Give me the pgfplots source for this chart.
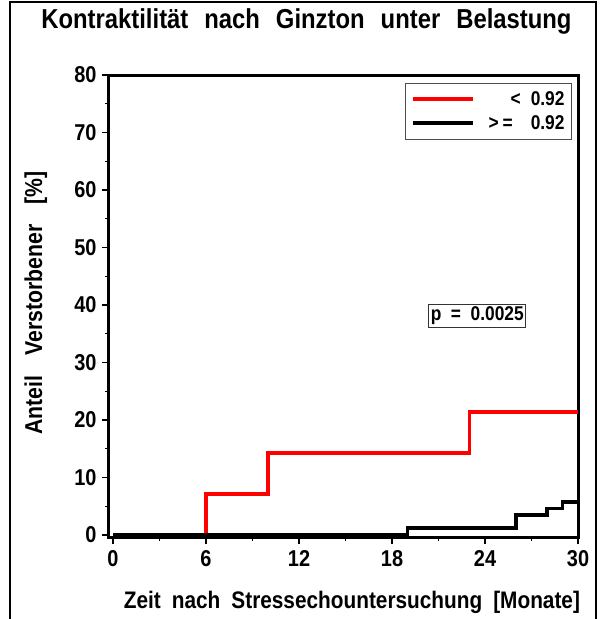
\documentclass[border=0pt]{standalone}
\usepackage{fontspec}
\setmainfont[FakeStretch=0.87]{Liberation Sans}
\usepackage{pgfplots}
\pgfplotsset{compat=1.18}
\begin{document}
\begin{tikzpicture}
\useasboundingbox (-109bp,-82bp) rectangle (497bp,537bp);
\begin{axis}[
  scale only axis, width=469bp, height=462bp,
  at={(0,0)}, anchor=south west,
  xmin=-0.26, xmax=30, ymin=-0.35, ymax=80,
  xtick={0,6,12,18,24,30}, ytick={0,10,...,80},
  minor xtick={3,9,15,21,27}, minor ytick={5,15,...,75},
  tick pos=left, tick align=outside,
  major tick length=7bp, minor tick length=4bp,
  separate axis lines,
  axis line style={line width=3bp, line cap=rect},
  every tick/.style={black, line width=1.2bp},
  ticklabel style={font=\bfseries\fontsize{23}{23}\selectfont},
  xticklabel style={yshift=-3bp},
  yticklabel style={xshift=-2bp},
  /pgf/number format/assume math mode=true,
  title={Kontraktilität\hspace{16bp}nach\hspace{16bp}Ginzton\hspace{16bp}unter\hspace{16bp}Belastung},
  title style={at={(axis description cs:0.421,1.0887)}, anchor=base, font=\bfseries\fontsize{27.5}{27.5}\selectfont},
  xlabel={Zeit\hspace{11bp}nach\hspace{11bp}Stressechountersuchung\hspace{11bp}[Monate]},
  xlabel style={at={(axis description cs:0.518,-0.1537)}, anchor=base, font=\bfseries\fontsize{24}{24}\selectfont},
  ylabel={Anteil\hspace{20bp}Verstorbener\hspace{20bp}[\%]},
  ylabel style={at={(axis description cs:-0.156,0.5065)}, anchor=center, font=\bfseries\fontsize{24.5}{24.5}\selectfont},
  legend style={at={(axis description cs:0.987,0.983)}, anchor=north east,
    draw=black!70, line width=0.8bp, font=\bfseries\fontsize{20}{20}\selectfont,
    inner xsep=5bp, inner ysep=6bp, row sep=5bp},
  legend cell align=right,
  legend image code/.code={\draw[#1, line width=3.8bp] (0bp,0bp) -- (60bp,0bp);},
]
\addplot[red, line width=3.8bp, const plot] coordinates {(0,0) (6,7.14) (10,14.29) (23,21.43) (30,21.43)};
\addlegendentry{<\hspace{10bp}0.92}
\addplot[black, line width=3.8bp, const plot] coordinates {(0,0) (19,1.27) (26,3.5) (28,4.6) (29,5.7) (30,5.7)};
\addlegendentry{\hspace{12bp}>\hspace{4bp}=\hspace{18bp}0.92}
\node[draw=black!80, line width=0.8bp, inner sep=2bp, font=\bfseries\fontsize{20}{20}\selectfont] at (axis cs:23.5,38.1) {p\ \ =\ \ 0.0025};
\end{axis}
\draw[line width=1.2bp] (-99bp,-82bp) -- (-99bp,535bp) -- (487bp,535bp) -- (487bp,-82bp);
\end{tikzpicture}
\end{document}
